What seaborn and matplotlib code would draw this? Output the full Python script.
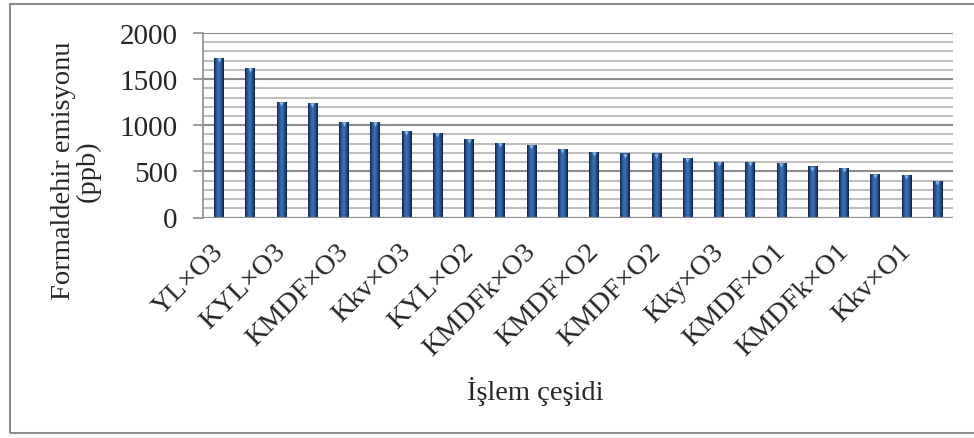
import numpy as np
import pandas as pd
import matplotlib
matplotlib.use("Agg")
import matplotlib.pyplot as plt
from matplotlib.colors import LinearSegmentedColormap
from matplotlib.patches import Rectangle
from matplotlib.transforms import ScaledTranslation
import seaborn as sns

# Formaldehyde emission per treatment (ppb), sorted descending
values = [1728, 1620, 1254, 1243, 1036, 1036, 938, 917, 851, 808, 786, 745,
          705, 694, 694, 640, 607, 607, 586, 553, 542, 467, 456, 401]
# Every second treatment is labelled on the axis
tick_labels = ["YL×O3", "KYL×O3", "KMDF×O3", "Kkv×O3", "KYL×O2", "KMDFk×O3",
               "KMDF×O2", "KMDF×O2", "Kky×O3", "KMDF×O1", "KMDFk×O1", "Kkv×O1"]
y_ticks = [0, 500, 1000, 1500, 2000]

sns.set_theme(style="white")
plt.rcParams["font.family"] = ["Liberation Serif", "DejaVu Serif"]

fig = plt.figure(figsize=(9.74, 4.39), dpi=100)
ax = fig.add_axes([203 / 974, 1 - 218.5 / 439, 750 / 974, 184.5 / 439])

df = pd.DataFrame({"pos": np.arange(len(values)), "val": values})
sns.barplot(data=df, x="pos", y="val", color="#24528f", width=0.29,
            ax=ax, zorder=3, saturation=1)

# shaded cylinder look for each bar
cmap = LinearSegmentedColormap.from_list(
    "bar", ["#0d2547", "#2a5c9e", "#3d70b4", "#24528f", "#0b2040"])
grad = np.linspace(0, 1, 64).reshape(1, -1)
for p in ax.patches:
    x0, w, h = p.get_x(), p.get_width(), p.get_height()
    im = ax.imshow(grad, cmap=cmap, aspect="auto", zorder=4,
                   extent=(x0, x0 + w, 0, h), origin="lower")
    im.set_clip_path(p)
    p.set_edgecolor("none")
    ax.scatter([x0 + w / 2], [h - 22], marker="v", s=10, color="#8fb4e6",
               zorder=5, linewidths=0)

ax.set_xlim(-0.5, len(values) - 0.5)
ax.set_ylim(0, 2000)

# gridlines: light every 100, darker every 500
for yv in range(100, 2001, 100):
    major = yv % 500 == 0
    ax.axhline(yv, color="#8c8c8c" if major else "#bfbfbf",
               lw=1.5, zorder=1)
ax.axhline(0, color="#8c8c8c", lw=1.6, zorder=6)

ax.set_yticks(y_ticks)
ax.set_yticklabels([str(t) for t in y_ticks], fontsize=21)
ax.tick_params(axis="y", which="major", direction="out", length=7.2,
               width=1.2, color="#8c8c8c", pad=11, left=True)

ax.set_xticks(np.arange(0, len(values), 2))
ax.set_xticklabels(tick_labels, rotation=45, ha="right",
                   rotation_mode="anchor", fontsize=20.5)
ax.tick_params(axis="x", length=0, pad=15)
shift = ScaledTranslation(-8 / 100, 0, fig.dpi_scale_trans)
for lbl in ax.get_xticklabels():
    lbl.set_transform(lbl.get_transform() + shift)

for side in ["top", "right", "bottom"]:
    ax.spines[side].set_visible(False)
ax.spines["left"].set_color("#8c8c8c")
ax.spines["left"].set_linewidth(1.2)

ax.set_xlabel("")
ax.set_ylabel("")
fig.text(535 / 974, 1 - 392 / 439, "İşlem çeşidi", ha="center",
         va="center", fontsize=20.5)
fig.text(76 / 974, 1 - 171 / 439, "Formaldehir emisyonu\n(ppb)", ha="center",
         va="center", rotation=90, fontsize=20.5, linespacing=1.0)

# chart frame
fig.patches.append(Rectangle((10 / 974, 5 / 439), 980 / 974, 429 / 439,
                             transform=fig.transFigure, fill=False,
                             edgecolor="#8c8c8c", lw=1.5))

fig.savefig("out.png", dpi=100)
